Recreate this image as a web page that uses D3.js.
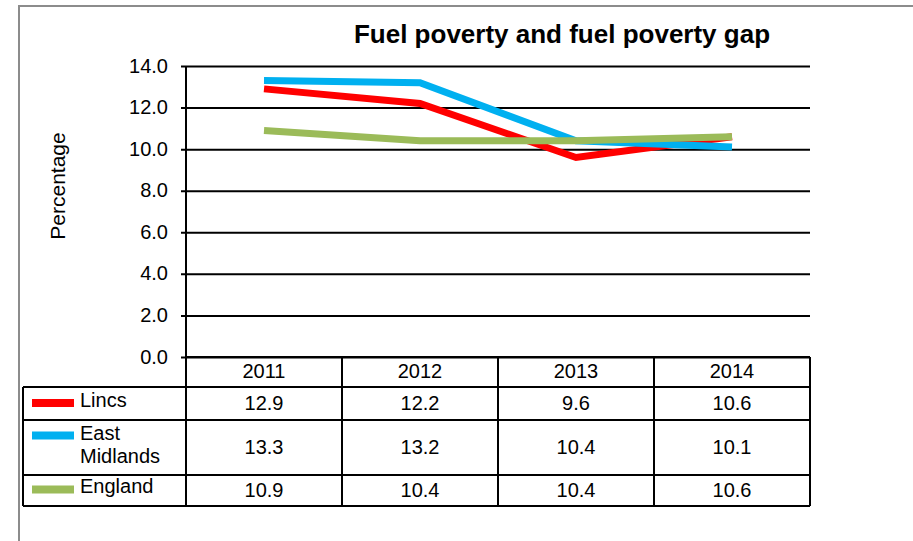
<!DOCTYPE html>
<html>
<head>
<meta charset="utf-8">
<script src="https://cdn.jsdelivr.net/npm/d3@7"></script>
<style>
  body { margin: 0; background: #fff; }
  svg { font-family: "Liberation Sans", Arial, sans-serif; }
</style>
</head>
<body>
<script>
// data
const years = ["2011", "2012", "2013", "2014"];
const seriesNames = ["Lincs", "East Midlands", "England"];
const lincs = [12.9, 12.2, 9.6, 10.6];
const eastMidlands = [13.3, 13.2, 10.4, 10.1];
const england = [10.9, 10.4, 10.4, 10.6];
const yTicks = [0, 2, 4, 6, 8, 10, 12, 14];

const colors = ["#ff0000", "#00b0f0", "#9bbb59"];
const series = [lincs, eastMidlands, england];

const width = 913, height = 541;
const svg = d3.select("body").append("svg")
  .attr("width", width)
  .attr("height", height);

// outer frame
svg.append("rect")
  .attr("x", 19).attr("y", 6)
  .attr("width", 920).attr("height", 560)
  .attr("fill", "none")
  .attr("stroke", "#8c8c8c")
  .attr("stroke-width", 2);

const plotLeft = 186, plotRight = 810, plotTop = 66, plotBottom = 357;

const x = d3.scaleBand().domain(years).range([plotLeft, plotRight]);
const y = d3.scaleLinear().domain([0, 14]).range([plotBottom, plotTop]);

// title
svg.append("text")
  .attr("x", 562).attr("y", 43)
  .attr("text-anchor", "middle")
  .style("font-size", "26px")
  .style("font-weight", "bold")
  .text("Fuel poverty and fuel poverty gap");

// y axis label
svg.append("text")
  .attr("transform", "translate(65,186) rotate(-90)")
  .attr("text-anchor", "middle")
  .style("font-size", "21px")
  .text("Percentage");

// gridlines + ticks
const yAxis = d3.axisLeft(y)
  .tickValues(yTicks)
  .tickSize(-(plotRight - plotLeft))
  .tickSizeOuter(0)
  .tickPadding(0)
  .tickFormat(d3.format(".1f"));

const gy = svg.append("g")
  .attr("transform", `translate(${plotLeft},0)`)
  .call(yAxis);
gy.select(".domain").remove();
gy.selectAll(".tick line")
  .attr("x1", -5)
  .attr("stroke", "#000")
  .attr("stroke-width", 2);
gy.selectAll(".tick text")
  .attr("x", -18)
  .attr("dy", "0.3em")
  .attr("fill", "#000")
  .style("font-size", "20px")
  .style("font-family", "Liberation Sans, Arial, sans-serif");

// y axis line
svg.append("line")
  .attr("x1", plotLeft).attr("x2", plotLeft)
  .attr("y1", plotTop).attr("y2", plotBottom)
  .attr("stroke", "#000").attr("stroke-width", 2);

// lines
const line = d3.line()
  .x((d, i) => x(years[i]) + x.bandwidth() / 2)
  .y(d => y(d));

svg.selectAll(".series")
  .data(series)
  .enter()
  .append("path")
  .attr("class", "series")
  .attr("d", d => line(d))
  .attr("fill", "none")
  .attr("stroke", (d, i) => colors[i])
  .attr("stroke-width", 7)
  .attr("stroke-linejoin", "miter");

// data table
const tableLeft = 23;
const rowEdges = [plotBottom, 387, 420, 475, 506];
const g = svg.append("g").attr("stroke", "#000").attr("stroke-width", 2);

// horizontal lines
rowEdges.forEach((ry, i) => {
  g.append("line")
    .attr("x1", i === 0 ? plotLeft : tableLeft).attr("x2", plotRight)
    .attr("y1", ry).attr("y2", ry);
});
// vertical lines
g.append("line")
  .attr("x1", tableLeft).attr("x2", tableLeft)
  .attr("y1", rowEdges[1]).attr("y2", rowEdges[4]);
years.forEach(yr => {
  g.append("line")
    .attr("x1", x(yr)).attr("x2", x(yr))
    .attr("y1", rowEdges[0]).attr("y2", rowEdges[4]);
});
g.append("line")
  .attr("x1", plotRight).attr("x2", plotRight)
  .attr("y1", rowEdges[0]).attr("y2", rowEdges[4]);

// header years
svg.selectAll(".yr")
  .data(years)
  .enter()
  .append("text")
  .attr("x", d => x(d) + x.bandwidth() / 2)
  .attr("y", (rowEdges[0] + rowEdges[1]) / 2)
  .attr("dy", "0.3em")
  .attr("text-anchor", "middle")
  .style("font-size", "20px")
  .text(d => d);

// rows
series.forEach((vals, r) => {
  const cy = (rowEdges[r + 1] + rowEdges[r + 2]) / 2;
  vals.forEach((v, i) => {
    svg.append("text")
      .attr("x", x(years[i]) + x.bandwidth() / 2)
      .attr("y", cy)
      .attr("dy", "0.3em")
      .attr("text-anchor", "middle")
      .style("font-size", "20px")
      .text(d3.format(".1f")(v));
  });
});

// legend keys in row headers
const keyY = [403, 435.5, 489.5];
const labelBase = [[407], [440, 463], [493]];
const labelLines = [["Lincs"], ["East", "Midlands"], ["England"]];
seriesNames.forEach((name, r) => {
  svg.append("rect")
    .attr("x", 32).attr("y", keyY[r] - 4)
    .attr("width", 42).attr("height", 8)
    .attr("fill", colors[r]);
  labelLines[r].forEach((t, k) => {
    svg.append("text")
      .attr("x", 80)
      .attr("y", labelBase[r][k])
      .style("font-size", "20px")
      .text(t);
  });
});
</script>
</body>
</html>
